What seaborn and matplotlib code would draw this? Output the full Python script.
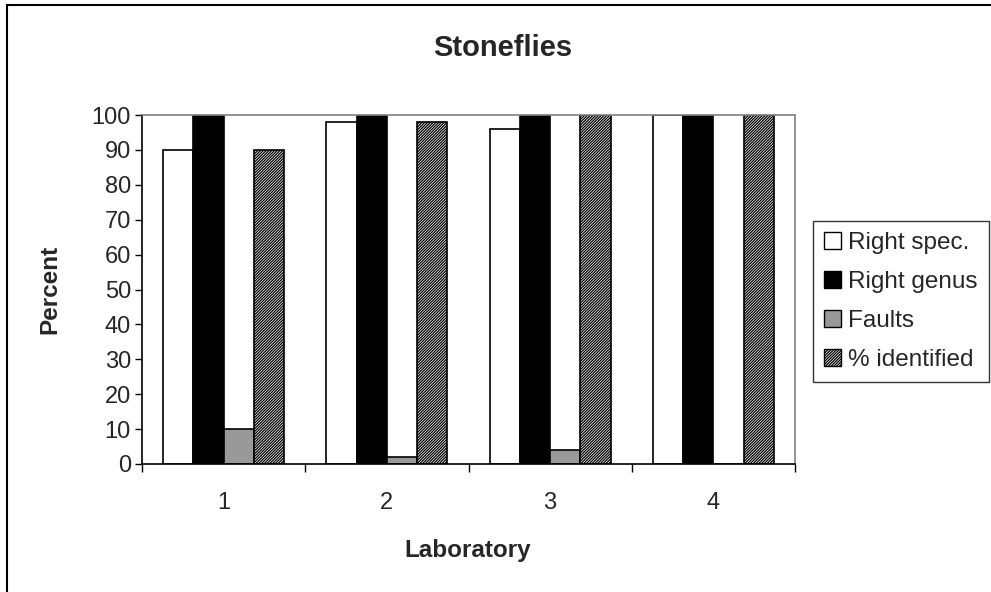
import pandas as pd
import matplotlib.pyplot as plt
import seaborn as sns
from matplotlib.patches import Rectangle

labs = ['1', '2', '3', '4']
right_spec = [90, 98, 96, 100]
right_genus = [100, 100, 100, 100]
faults = [10, 2, 4, 0]
identified = [90, 98, 100, 100]
series = ['Right spec.', 'Right genus', 'Faults', '% identified']


def hoge():
  sns.set_theme(style='white')
  plt.rcParams['font.family'] = ['Liberation Sans', 'DejaVu Sans']
  plt.rcParams['hatch.linewidth'] = 0.9

  df = pd.DataFrame({'Laboratory': labs * 4,
                     'series': [s for s in series for _ in labs],
                     'Percent': right_spec + right_genus + faults + identified})

  fig = plt.figure(figsize=(9.91, 5.92), dpi=100)
  ax = fig.add_axes([142 / 991, 1 - 464 / 592, (795 - 142) / 991, (464 - 115) / 592])

  colors = ['white', 'black', '#999999', 'white']
  hatch = '////////////'
  sns.barplot(data=df, x='Laboratory', y='Percent', hue='series', hue_order=series,
              palette=colors, width=0.74, gap=0, edgecolor='black', linewidth=1.2,
              saturation=1, ax=ax, legend=False)

  for i, p in enumerate(ax.patches):
    if i // 4 == 3:
      p.set_hatch(hatch)

  ax.set_ylim(0, 100)
  ax.set_xlim(-0.5, 3.5)
  ax.set_yticks(range(0, 101, 10))
  ax.tick_params(axis='y', which='major', direction='out', length=5, width=1,
                 color='black', labelsize=17, left=True, pad=3)
  ax.set_xticks([-0.5, 0.5, 1.5, 2.5, 3.5], minor=True)
  ax.tick_params(axis='x', which='minor', direction='out', length=6, width=1,
                 color='black', bottom=True)
  ax.tick_params(axis='x', which='major', length=0, labelsize=17, pad=20)

  for s in ['left', 'bottom']:
    ax.spines[s].set_color('black')
    ax.spines[s].set_linewidth(1.2)
  for s in ['top', 'right']:
    ax.spines[s].set_color('#808080')
    ax.spines[s].set_linewidth(1.2)

  ax.set_xlabel('Laboratory', fontsize=17.5, fontweight='bold', va='center')
  ax.set_ylabel('Percent', fontsize=17.5, fontweight='bold', va='center')
  ax.xaxis.set_label_coords((468 - 142) / 653, -(551 - 464) / 349)
  ax.yaxis.set_label_coords(-(142 - 50) / 653, 0.5)
  fig.text(503 / 991, 1 - 48 / 592, 'Stoneflies', fontsize=21, fontweight='bold',
           ha='center', va='center')

  handles = []
  for c, s in zip(colors, series):
    r = Rectangle((0, 0), 1, 1, facecolor=c, edgecolor='black', linewidth=1)
    if s == '% identified':
      r.set_hatch(hatch)
    handles.append(r)
  leg = fig.legend(handles, series, loc='lower left',
                   bbox_to_anchor=(813 / 991, 1 - 382 / 592), fontsize=17.5,
                   frameon=True, fancybox=False, edgecolor='black',
                   handlelength=0.7, handleheight=0.7, handletextpad=0.3,
                   labelspacing=0.7, borderpad=0.45, borderaxespad=0)
  leg.get_frame().set_linewidth(1)

  fig.patches.append(Rectangle((7 / 991, -0.5), 2, 1.5 - 5 / 592, transform=fig.transFigure,
                               fill=False, edgecolor='black', linewidth=1.5))

  fig.savefig('out.png', dpi=100)


def main():
  hoge()


if __name__ == '__main__':
  main()
